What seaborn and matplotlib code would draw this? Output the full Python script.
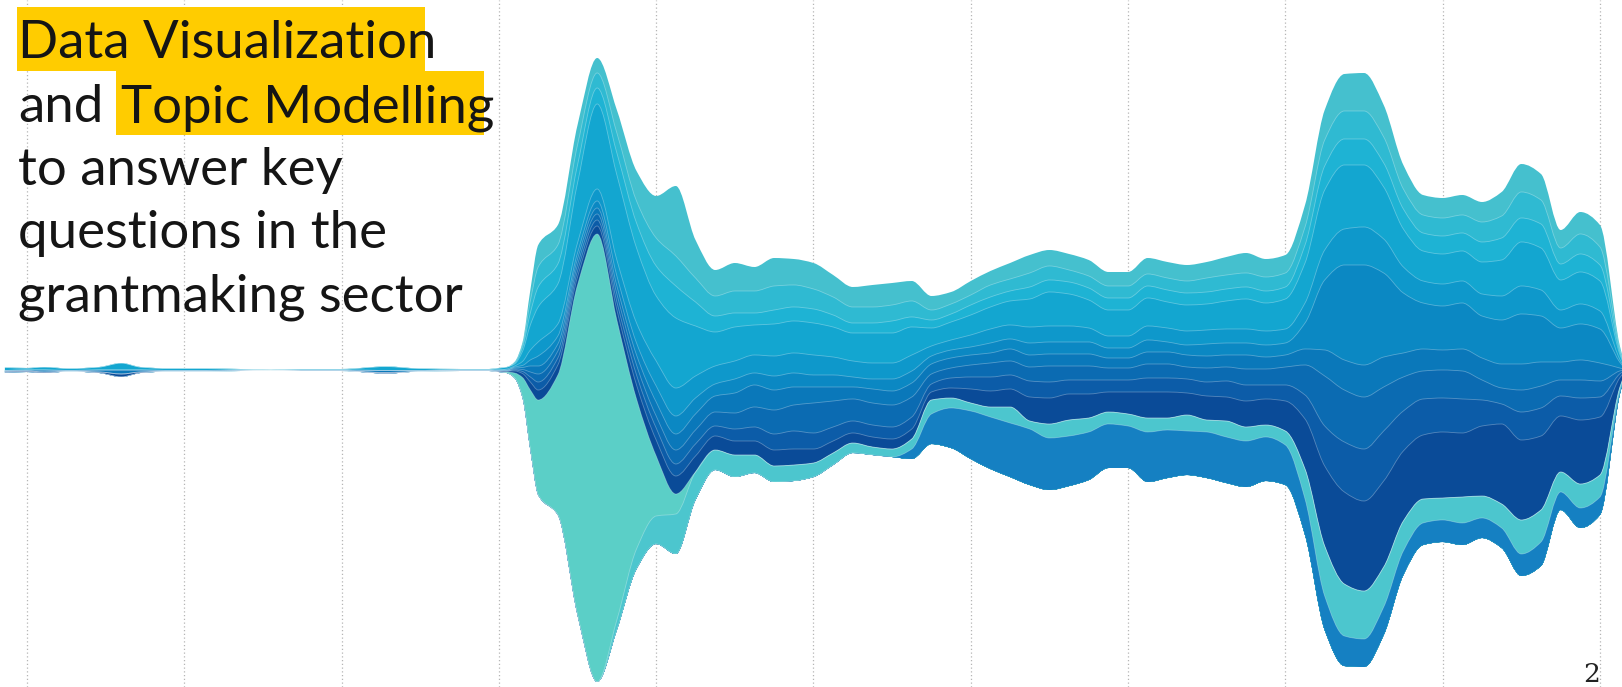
import matplotlib
matplotlib.use("Agg")
import matplotlib.pyplot as plt
import numpy as np
import seaborn as sns
from matplotlib.path import Path
from matplotlib.patches import PathPatch, Rectangle

# time axis (one unit = one grid column)
t = [-0.14, 0, 0.11, 0.27, 0.46, 0.6, 0.72, 0.91, 1.1, 1.35, 1.55, 1.74, 2.0, 2.28, 2.5, 2.75, 2.94,
     3.0, 3.05, 3.1, 3.15, 3.2, 3.25, 3.375, 3.5, 3.625, 3.75, 3.875, 4.0, 4.125, 4.25, 4.375, 4.5,
     4.625, 4.75, 4.875, 5.0, 5.125, 5.25, 5.375, 5.5, 5.625, 5.75, 5.875, 6.0, 6.125, 6.25, 6.375,
     6.5, 6.625, 6.75, 6.875, 7.0, 7.125, 7.25, 7.375, 7.5, 7.625, 7.75, 7.875, 8.0, 8.125, 8.25,
     8.375, 8.5, 8.625, 8.75, 8.875, 9.0, 9.125, 9.25, 9.375, 9.5, 9.625, 9.75, 9.875, 10.0, 10.125, 10.15]

# topic weights, bottom layer first
topic_low = [0, 0, 0, 0, 0, 0, 0, 0, 0, 0, 0, 0, 0, 0, 0, 0, 0,
             0, 0, 0, 0, 0, 0, 0, 0, 0, 0, 0, 0, 0, 0, 0, 0, 0, 0, 0, 0, 0, 0, 0, 0,
             10, 30, 40, 48, 52, 54, 56, 52, 50, 48, 44, 42, 50, 48, 44, 46, 46, 46, 44, 40,
             36, 34, 30, 28, 28, 24, 22, 22, 22, 20, 20, 22, 24, 18, 20, 18, 3, 1]
topic_band = [0, 0, 0, 0, 0, 0, 0, 0, 0, 0, 0, 0, 0, 0, 0, 0, 0,
              0, 0, 0, 0, 0, 0, 0, 0, 0, 10, 20, 28, 40, 28, 20, 22, 18, 16, 16, 14, 12, 10, 8, 8,
              10, 14, 10, 8, 10, 16, 8, 14, 16, 14, 12, 12, 14, 12, 16, 12, 16, 14, 12, 14,
              30, 50, 52, 48, 40, 30, 24, 22, 26, 22, 24, 34, 32, 20, 24, 22, 4, 2]
topic_blob = [0, 0, 0, 0, 0, 0, 0, 0, 0, 0, 0, 0, 0, 0, 0, 0, 0,
              0, 1, 5, 20, 60, 95, 140, 330, 448, 300, 150, 60, 20, 0, 0, 0, 0, 0, 0, 0, 0, 0, 0, 0,
              0, 0, 0, 0, 0, 0, 0, 0, 0, 0, 0, 0, 0, 0, 0, 0, 0, 0, 0, 0,
              0, 0, 0, 0, 0, 0, 0, 0, 0, 0, 0, 0, 0, 0, 0, 0, 0, 0]
topic_navy = [1, 1, 1, 0, 1, 3, 1, 0, 0, 0, 0, 0, 0, 1, 0, 0, 0,
              1, 1, 2, 4, 8, 10, 10, 8, 8, 10, 14, 16, 18, 16, 14, 14, 14, 16, 16, 14, 12, 10, 10, 10,
              10, 8, 10, 14, 16, 18, 24, 26, 26, 24, 20, 22, 26, 26, 22, 24, 24, 26, 26, 30,
              50, 80, 92, 90, 86, 70, 64, 66, 64, 70, 80, 80, 74, 56, 64, 58, 10, 4]
topic_b5 = [0, 0, 0, 0, 0, 0, 0, 0, 0, 0, 0, 0, 0, 0, 0, 0, 0,
            0, 0, 1, 2, 5, 8, 7, 6, 6, 8, 10, 12, 12, 12, 10, 12, 14, 16, 18, 16, 14, 12, 12, 12,
            12, 8, 10, 12, 14, 14, 16, 16, 14, 14, 12, 12, 14, 14, 14, 14, 16, 16, 14, 16,
            24, 40, 50, 52, 50, 40, 36, 34, 34, 26, 20, 28, 28, 20, 22, 20, 4, 2]
topic_b6 = [0, 0, 0, 0, 0, 0, 0, 0, 0, 0, 0, 0, 0, 0, 0, 0, 0,
            0, 0, 1, 2, 5, 8, 7, 6, 6, 8, 10, 12, 14, 14, 14, 16, 20, 24, 26, 30, 26, 22, 22, 22,
            20, 10, 10, 12, 14, 14, 14, 16, 14, 14, 12, 12, 14, 14, 12, 14, 14, 16, 16, 18,
            30, 50, 52, 52, 44, 34, 28, 28, 28, 20, 16, 22, 22, 16, 18, 16, 3, 1]
topic_b7 = [1, 1, 2, 1, 2, 4, 2, 1, 1, 1, 0, 1, 1, 2, 1, 1, 1,
            1, 1, 1, 2, 6, 8, 7, 6, 6, 8, 10, 14, 16, 16, 16, 20, 22, 20, 18, 16, 14, 12, 14, 14,
            14, 10, 10, 10, 10, 12, 12, 12, 12, 12, 10, 10, 12, 12, 12, 12, 12, 14, 12, 12,
            16, 26, 30, 32, 30, 24, 22, 20, 22, 22, 24, 26, 24, 18, 20, 18, 3, 1]
topic_b8 = [0, 0, 0, 0, 0, 0, 0, 0, 0, 0, 0, 0, 0, 0, 0, 0, 0,
            0, 0, 1, 2, 6, 10, 8, 6, 7, 10, 12, 16, 18, 16, 12, 14, 12, 14, 14, 12, 12, 10, 10, 12,
            12, 8, 8, 8, 10, 10, 12, 12, 12, 12, 10, 10, 12, 10, 10, 12, 12, 12, 12, 12,
            26, 70, 95, 100, 84, 60, 46, 44, 46, 42, 44, 50, 46, 34, 36, 34, 6, 2]
topic_b9 = [0, 0, 0, 0, 0, 0, 0, 0, 0, 0, 0, 0, 0, 0, 0, 0, 0,
            0, 1, 1, 4, 10, 14, 12, 10, 12, 16, 20, 25, 28, 22, 18, 18, 18, 20, 20, 20, 18, 16, 16, 16,
            16, 10, 10, 12, 14, 14, 16, 16, 16, 14, 12, 12, 14, 14, 14, 14, 14, 14, 14, 14,
            20, 30, 36, 38, 34, 26, 22, 22, 22, 22, 24, 28, 26, 18, 20, 18, 3, 1]
topic_c10 = [3, 2, 3, 2, 3, 7, 3, 2, 2, 1, 0.5, 1, 1, 4, 2, 1, 1,
             2, 2, 2, 10, 25, 35, 40, 60, 85, 85, 75, 65, 70, 50, 34, 34, 30, 32, 32, 32, 30, 28, 30, 30,
             28, 18, 18, 20, 22, 24, 28, 34, 32, 28, 26, 26, 28, 26, 26, 26, 28, 30, 28, 30,
             40, 60, 64, 62, 52, 38, 30, 30, 30, 32, 36, 44, 42, 30, 32, 30, 5, 2]
topic_c11 = [0, 0, 0, 0, 0, 0, 0, 0, 0, 0, 0, 0, 0, 0, 0, 0, 0,
             0, 0, 1, 4, 12, 20, 20, 18, 16, 22, 25, 30, 32, 24, 16, 14, 12, 14, 14, 14, 12, 10, 10, 12,
             10, 8, 8, 10, 10, 10, 12, 12, 12, 12, 12, 12, 12, 12, 12, 12, 12, 12, 12, 12,
             18, 24, 26, 26, 24, 20, 18, 18, 18, 20, 22, 24, 24, 16, 18, 16, 3, 1]
topic_t12 = [0, 0, 0, 0, 0, 0, 0, 0, 0, 0, 0, 0, 0, 0, 0, 0, 0,
             0, 0, 1, 3, 12, 20, 19, 20, 15, 20, 22, 28, 30, 24, 20, 22, 22, 24, 22, 20, 18, 16, 16, 16,
             16, 10, 10, 10, 12, 12, 14, 14, 12, 12, 12, 12, 12, 12, 12, 14, 14, 14, 14, 14,
             18, 26, 28, 28, 26, 20, 18, 18, 18, 20, 22, 26, 24, 16, 20, 18, 3, 1]
topic_top = [0, 0, 0, 0, 0, 0, 0, 0, 0, 0, 0, 0, 0, 0, 0, 0, 0,
             0, 0, 0, 2, 11, 22, 20, 20, 15, 23, 30, 42, 70, 38, 26, 28, 24, 28, 26, 26, 22, 20, 22, 22,
             20, 14, 12, 14, 14, 16, 18, 16, 16, 16, 14, 14, 16, 16, 16, 16, 18, 20, 18, 18,
             22, 30, 37, 38, 32, 24, 20, 20, 20, 20, 24, 28, 26, 18, 22, 22, 3, 2]

layers = [topic_low, topic_band, topic_blob, topic_navy, topic_b5, topic_b6, topic_b7,
          topic_b8, topic_b9, topic_c10, topic_c11, topic_t12, topic_top]
colors = ["#1580C2", "#4CC6CE", "#5BCFC7", "#0A4B98", "#0C5CA8", "#0B6BB2", "#0A78BA",
          "#0B88C3", "#0E98CB", "#13A6D0", "#1EB3D4", "#2FBAD2", "#45C0CE"]

title_lines = ["Data Visualization", "and", "Topic Modelling", "to answer key",
               "questions in the", "grantmaking sector"]


def slopes(x, y):
    # monotone (Fritsch-Carlson) tangents so curves don't overshoot
    h = np.diff(x)
    d = np.diff(y) / h
    m = np.zeros_like(y)
    m[0], m[-1] = d[0], d[-1]
    for i in range(1, len(y) - 1):
        if d[i - 1] * d[i] > 0:
            w1 = 2 * h[i] + h[i - 1]
            w2 = h[i] + 2 * h[i - 1]
            m[i] = (w1 + w2) / (w1 / d[i - 1] + w2 / d[i])
    return m


def curve(x, y, reverse=False):
    # cubic bezier segments through every data point
    m = slopes(x, y)
    pts = []
    idx = range(len(x) - 1)
    if not reverse:
        pts.append((x[0], y[0]))
        for i in idx:
            h = x[i + 1] - x[i]
            pts += [(x[i] + h / 3, y[i] + m[i] * h / 3),
                    (x[i + 1] - h / 3, y[i + 1] - m[i + 1] * h / 3),
                    (x[i + 1], y[i + 1])]
    else:
        pts.append((x[-1], y[-1]))
        for i in reversed(idx):
            h = x[i + 1] - x[i]
            pts += [(x[i + 1] - h / 3, y[i + 1] - m[i + 1] * h / 3),
                    (x[i] + h / 3, y[i] + m[i] * h / 3),
                    (x[i], y[i])]
    return pts


sns.set_theme(style="white")
plt.rcParams["font.family"] = ["Lato", "DejaVu Sans"]

fig = plt.figure(figsize=(16.22, 6.87), dpi=100)
ax = fig.add_axes([0, 0, 1, 1])

x = np.array(t, dtype=float)
vals = np.array(layers, dtype=float)
total = vals.sum(axis=0)
bounds = np.vstack([np.zeros_like(x), np.cumsum(vals, axis=0)]) - total / 2  # symmetric baseline

pal = sns.color_palette(colors)
bottom = curve(x, bounds[0], reverse=True)
n_seg = len(x) - 1
# paint from the outermost layer inwards, each one covering the rest of the stream below it
for k in range(len(layers) - 1, -1, -1):
    top = curve(x, bounds[k + 1])
    verts = top + bottom + [top[0]]
    codes = ([Path.MOVETO] + [Path.CURVE4] * (3 * n_seg) + [Path.LINETO]
             + [Path.CURVE4] * (3 * n_seg) + [Path.CLOSEPOLY])
    ax.add_patch(PathPatch(Path(verts, codes), facecolor=pal[k], edgecolor="none", zorder=3))

# thin light separators between topics
for k in range(1, len(layers)):
    line = curve(x, bounds[k])
    codes = [Path.MOVETO] + [Path.CURVE4] * (3 * n_seg)
    ax.add_patch(PathPatch(Path(line, codes), facecolor="none",
                           edgecolor=(1, 1, 1, 0.3), linewidth=0.6, zorder=4))

ax.set_xlim(-0.1716, 10.14)
ax.set_ylim(-317, 370)
ax.set_xticks(range(11))
ax.set_yticks([])
ax.grid(axis="x", color="#b5b5b5", linestyle=(0, (1, 2)), linewidth=0.9, zorder=0)
ax.tick_params(length=0, labelbottom=False)
for s in ax.spines.values():
    s.set_visible(False)

# title block (figure pixel coordinates, y from top)
W, H = 1622, 687
fs = 38
ink = "#151515"
# yellow highlight bars behind the two key phrases
fig.patches.append(Rectangle((17 / W, 1 - 71 / H), 408 / W, 64 / H, transform=fig.transFigure,
                             facecolor="#FFCC00", edgecolor="none", zorder=0))
fig.patches.append(Rectangle((116 / W, 1 - 135 / H), 368 / W, 64 / H, transform=fig.transFigure,
                             facecolor="#FFCC00", edgecolor="none", zorder=0))
fig.text(18 / W, 1 - 58 / H, title_lines[0], fontsize=fs, color=ink)
fig.text(18 / W, 1 - 122 / H, title_lines[1], fontsize=fs, color=ink)
fig.text(121 / W, 1 - 122 / H, title_lines[2], fontsize=fs, color=ink)
fig.text(18 / W, 1 - 185 / H, title_lines[3], fontsize=fs, color=ink)
fig.text(18 / W, 1 - 248 / H, title_lines[4], fontsize=fs, color=ink)
fig.text(18 / W, 1 - 312 / H, title_lines[5], fontsize=fs, color=ink)

fig.text(1592 / W, 1 - 662 / H, "2", fontsize=19, family="DejaVu Serif",
         ha="center", va="top", color="#222222")

fig.savefig("out.png", dpi=100)
